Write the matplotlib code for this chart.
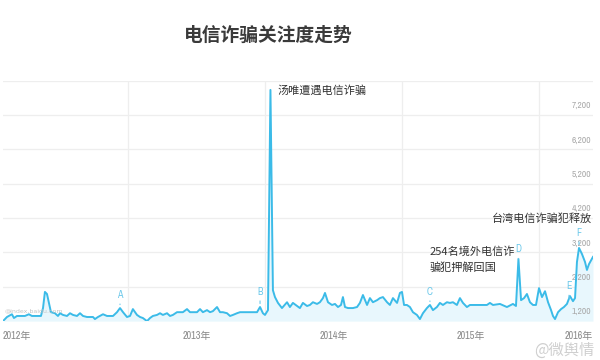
import numpy as np
import matplotlib
matplotlib.use('Agg')
import matplotlib.pyplot as plt
from matplotlib import font_manager

ttf = font_manager.fontManager.ttflist
narrow_names = [f.name for f in ttf if 'Narrow' in f.name]
has_cond = any(f.name == 'DejaVu Sans' and f.stretch in ('condensed', 600, 'semi-condensed')
               or 'Condensed' in f.fname for f in ttf)
if narrow_names:
    NARROW, STRETCH = narrow_names[0], 'normal'
elif has_cond:
    NARROW, STRETCH = 'DejaVu Sans', 'condensed'
else:
    NARROW, STRETCH = 'DejaVu Sans', 'normal'
CJK = 'Noto Sans CJK SC'
plt.rcParams['font.family'] = [CJK, 'DejaVu Sans']

# ---------------- data (decimal year, Baidu index) ----------------
years = [2012.088, 2012.117, 2012.153, 2012.168, 2012.190, 2012.248, 2012.277, 2012.299,
         2012.365, 2012.380, 2012.394, 2012.409, 2012.423, 2012.438, 2012.467, 2012.489,
         2012.504, 2012.526, 2012.555, 2012.577, 2012.599, 2012.628, 2012.650, 2012.672,
         2012.701, 2012.745, 2012.759, 2012.781, 2012.818, 2012.847, 2012.891, 2012.920,
         2012.942, 2012.964, 2012.993, 2013.015, 2013.036, 2013.066, 2013.088, 2013.109,
         2013.139, 2013.161, 2013.182, 2013.212, 2013.234, 2013.255, 2013.285, 2013.307,
         2013.328, 2013.358, 2013.380, 2013.401, 2013.431, 2013.453, 2013.474, 2013.504,
         2013.526, 2013.547, 2013.577, 2013.599, 2013.620, 2013.650, 2013.672, 2013.693,
         2013.723, 2013.745, 2013.766, 2013.796, 2013.818, 2013.854, 2013.891, 2013.942,
         2013.964, 2013.985, 2014.000, 2014.022, 2014.040, 2014.058, 2014.073, 2014.095,
         2014.124, 2014.161, 2014.182, 2014.204, 2014.234, 2014.255, 2014.277, 2014.307,
         2014.328, 2014.350, 2014.380, 2014.401, 2014.423, 2014.438, 2014.460, 2014.489,
         2014.511, 2014.533, 2014.555, 2014.569, 2014.584, 2014.606, 2014.642, 2014.672,
         2014.693, 2014.715, 2014.745, 2014.766, 2014.788, 2014.818, 2014.839, 2014.861,
         2014.891, 2014.912, 2014.934, 2014.964, 2014.985, 2015.000, 2015.015, 2015.036,
         2015.058, 2015.080, 2015.109, 2015.131, 2015.153, 2015.182, 2015.204, 2015.226,
         2015.255, 2015.277, 2015.299, 2015.328, 2015.350, 2015.372, 2015.401, 2015.423,
         2015.445, 2015.474, 2015.496, 2015.533, 2015.569, 2015.620, 2015.642, 2015.664,
         2015.715, 2015.766, 2015.810, 2015.832, 2015.850, 2015.869, 2015.891, 2015.912,
         2015.934, 2015.956, 2015.978, 2016.000, 2016.022, 2016.044, 2016.066, 2016.088,
         2016.102, 2016.117, 2016.139, 2016.161, 2016.182, 2016.204, 2016.226, 2016.248,
         2016.263, 2016.277, 2016.292, 2016.314, 2016.336, 2016.350, 2016.365, 2016.394]

values = [1200, 1320, 1400, 1290, 1350, 1350, 1400, 1350,
          1350, 1580, 2050, 1990, 1730, 1460, 1430, 1350,
          1430, 1380, 1350, 1430, 1380, 1350, 1430, 1350,
          1320, 1320, 1260, 1320, 1400, 1350, 1350, 1460,
          1580, 1460, 1320, 1350, 1550, 1380, 1320, 1290,
          1200, 1290, 1350, 1380, 1430, 1380, 1430, 1350,
          1380, 1460, 1460, 1460, 1550, 1460, 1460, 1460,
          1550, 1460, 1520, 1460, 1490, 1610, 1460, 1460,
          1430, 1350, 1380, 1430, 1460, 1460, 1460, 1460,
          1610, 1430, 1380, 1520, 7930, 2100, 1900, 1730,
          1580, 1750, 1610, 1730, 1640, 1580, 1730, 1640,
          1670, 1750, 1700, 1750, 1870, 2020, 1750, 1670,
          1700, 1610, 1670, 1900, 1610, 1580, 1580, 1610,
          1730, 1960, 1670, 1870, 1750, 1810, 1870, 1900,
          1750, 1670, 1870, 1730, 2020, 2050, 1670, 1670,
          1610, 1460, 1380, 1260, 1430, 1580, 1670, 1520,
          1610, 1730, 1670, 1750, 1730, 1750, 1670, 1870,
          1730, 1610, 1670, 1670, 1670, 1670, 1730, 1670,
          1700, 1610, 1700, 1640, 3010, 1810, 1870, 1990,
          1750, 1670, 1670, 2160, 1900, 2070, 1750, 1520,
          1350, 1260, 1460, 1550, 1610, 1700, 1930, 1780,
          1870, 2920, 3330, 3150, 2920, 2690, 2860, 3070]

ytick_values = [1200, 2200, 3200, 4200, 5200, 6200, 7200]
ytick_labels = ['1,200', '2,200', '3,200', '4,200', '5,200', '6,200', '7,200']
grid_values = [1200, 2200, 3200, 4200, 5200, 6200, 7200, 8200]
year_bounds = [2013, 2014, 2015, 2016]
year_labels = ['2012年', '2013年', '2014年', '2015年', '2016年']

event_letters = ['A', 'B', 'C', 'D', 'E', 'F']
event_years = [2012.942, 2013.964, 2015.204, 2015.850, 2016.219, 2016.292]
event_offsets = [9.5, 11, 9.5, 7, 9, 11]

notes = ['汤唯遭遇电信诈骗', '254名境外电信诈', '骗犯押解回国', '台湾电信诈骗犯释放']
note_x = [2014.088, 2015.204, 2015.204, 2016.387]
note_y = [7900, 3240, 2745, 4200]
note_ha = ['left', 'left', 'left', 'right']

# ---------------- figure ----------------
LINE = '#3bbbe8'
FILL = '#e8f7fd'
fig = plt.figure(figsize=(6, 3.6), dpi=100)
ax = fig.add_axes([0.005, 0.108, 0.9833, 0.668])
xmin, xmax = years[0], years[-1]
ax.set_xlim(xmin, xmax)
ax.set_ylim(1200, 8200)
for s in ax.spines.values():
    s.set_visible(False)
ax.set_xticks([])
ax.set_yticks([])

for g in grid_values[1:]:
    ax.axhline(g, color='#eeeeee', lw=0.9, zorder=0)
ax.axhline(grid_values[0], color='#dcdcdc', lw=1.0, zorder=0)
for b in year_bounds:
    ax.axvline(b, color='#eeeeee', lw=0.9, zorder=0)

ax.fill_between(years, values, 1200, color=FILL, lw=0, zorder=1)
ax.plot(years, values, color=LINE, lw=1.4, zorder=2, solid_joinstyle='round')

# y labels (sit above their grid lines, right side)
for v, lab in zip(ytick_values, ytick_labels):
    ax.annotate(lab, xy=(1, v), xycoords=('axes fraction', 'data'),
                xytext=(-1.5, 3.5), textcoords='offset points', ha='right', va='bottom',
                fontsize=6.8, color='#aaaaaa', family=[NARROW, 'DejaVu Sans'],
                fontstretch=STRETCH, zorder=1.5)

# year labels
xl_pos = [xmin] + [b + 0.5 for b in year_bounds[:-1]] + [xmax]
xl_ha = ['left', 'center', 'center', 'center', 'right']
for xp, lab, ha in zip(xl_pos, year_labels, xl_ha):
    ax.annotate(lab, xy=(xp, 0), xycoords=('data', 'axes fraction'),
                xytext=(0, -11), textcoords='offset points', ha=ha, va='center',
                fontsize=7.2, color='#888888', family=[NARROW, CJK],
                fontstretch=STRETCH)

# event letters
for let, ey, off in zip(event_letters, event_years, event_offsets):
    ev = np.interp(ey, years, values)
    ax.annotate(let, xy=(ey, ev), xytext=(0, off), textcoords='offset points',
                ha='center', va='center', fontsize=7.2, color='#6cc8ea',
                family=[NARROW, 'DejaVu Sans'], fontstretch=STRETCH,
                arrowprops=dict(arrowstyle='-', color='#6cc8ea', lw=0.8,
                                shrinkA=1, shrinkB=2.5), zorder=3)

# notes
for t, nx, ny, ha in zip(notes, note_x, note_y, note_ha):
    ax.text(nx, ny, t, ha=ha, va='center', fontsize=8, color='#333333', zorder=4)

# watermarks
ax.text(0.003, 1490, '@index.baidu.com', transform=ax.get_yaxis_transform(),
        fontsize=4.5, color='#c4c4c4', va='center', ha='left', family='DejaVu Sans')
fig.text(0.99, 1 - 350 / 360, '@微舆情', ha='right', va='center', fontsize=11,
         color='#cfcfcf')

# title
fig.text(268 / 600, 1 - 35 / 360, '电信诈骗关注度走势', ha='center', va='center',
         fontsize=13.5, fontweight='black', color='#3a3a3a')

fig.savefig('out.png', dpi=100)
